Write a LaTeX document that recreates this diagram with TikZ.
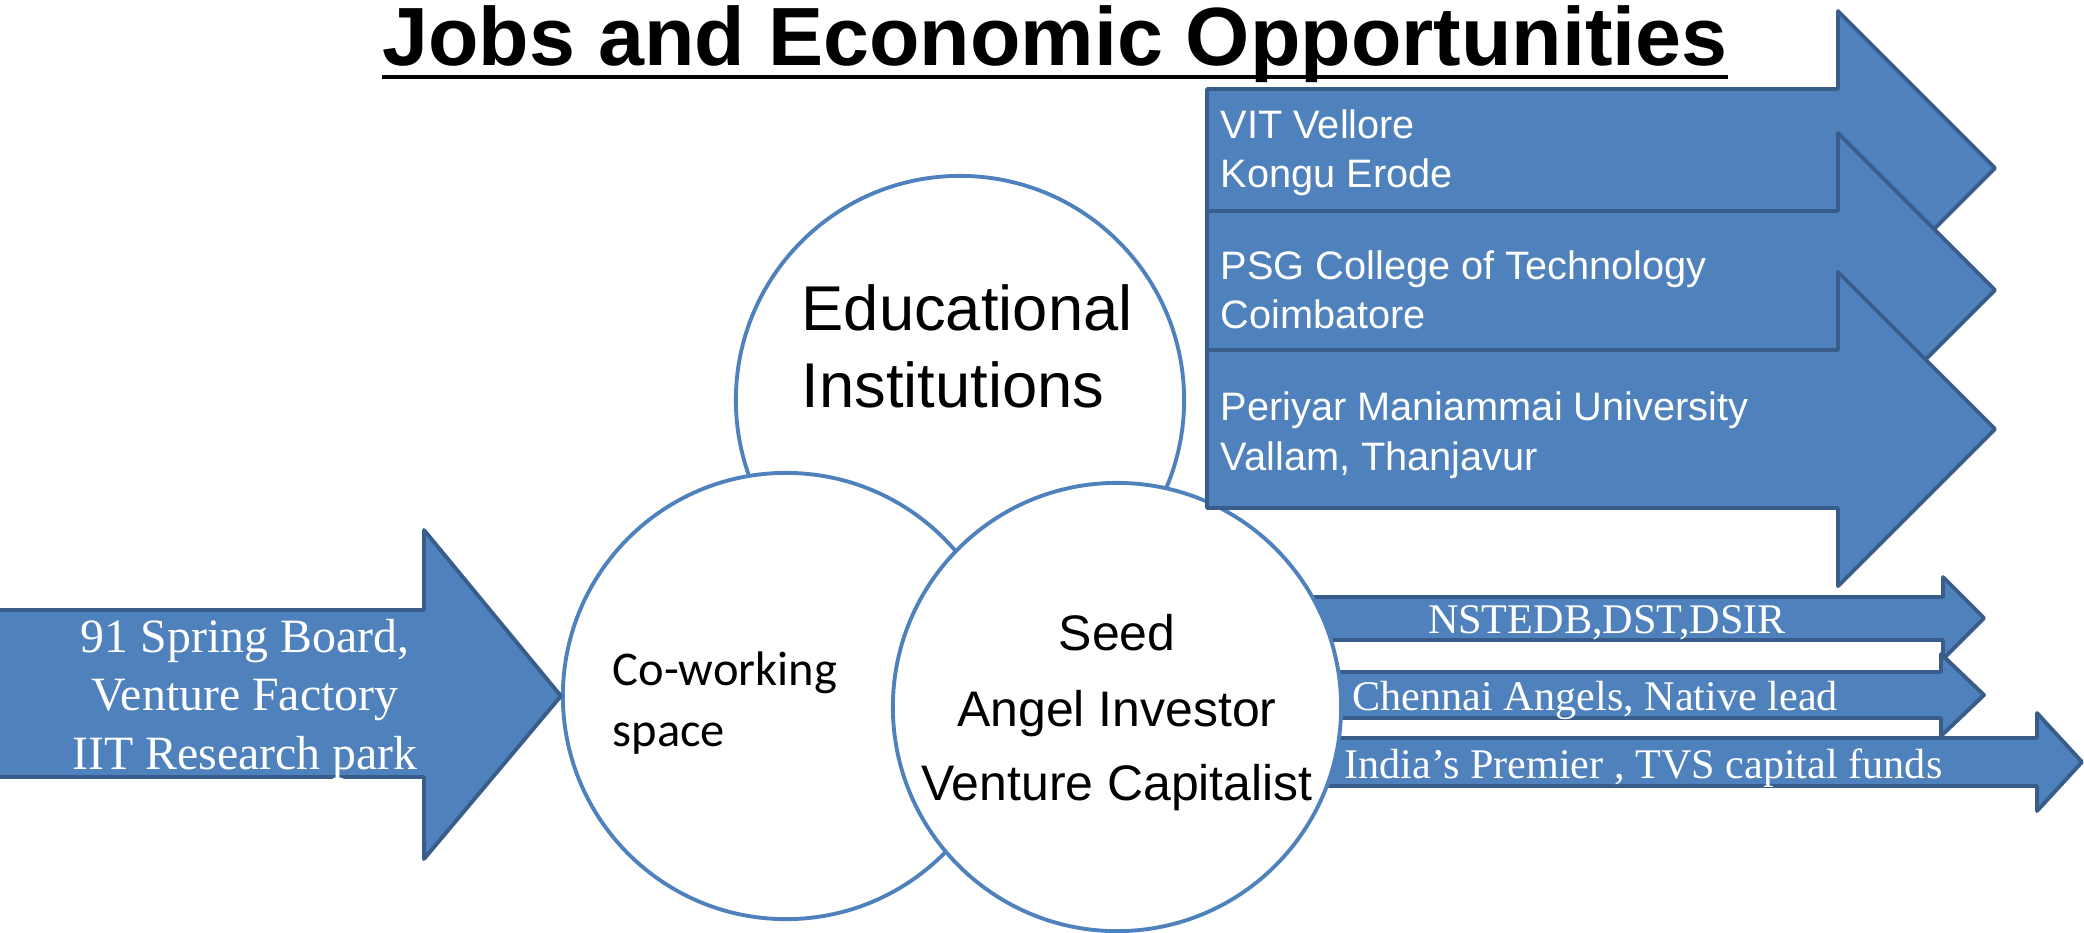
\documentclass[tikz,border=0pt]{standalone}
\usepackage{fontspec}
\setmainfont{Liberation Serif}
\setsansfont{Liberation Sans}
\newfontfamily\cwfont{Carlito}
\usepackage{tikz}
\usetikzlibrary{positioning}
\definecolor{ArrowFill}{RGB}{79,129,189}
\definecolor{ArrowLine}{RGB}{56,93,138}

\begin{document}
\begin{tikzpicture}[x=0.01cm,y=-0.01cm,blk/.style={draw=ArrowLine,fill=ArrowFill,line width=1.1pt,line join=round},ring/.style={circle,draw=ArrowFill,fill=white,line width=1.1pt,minimum size=4.48cm,inner sep=0pt},wtxt/.style={text=white,inner sep=0pt,anchor=base west},ktxt/.style={text=black,inner sep=0pt,anchor=base west}]
\useasboundingbox (0,0) rectangle (2084,932);
% circles
\node[ring] (edu) at (960,400) {};
\node[ring,minimum size=4.46cm] (cowork) at (786,696) {};
% small arrows, behind the seed circle
\draw[blk] (1250,597) -- (1943,597) -- (1943,577) -- (1984,618) -- (1943,659) -- (1943,640) -- (1250,640) -- cycle;
\draw[blk] (1250,672) -- (1941,672) -- (1941,654) -- (1984,695) -- (1941,736) -- (1941,718) -- (1250,718) -- cycle;
\draw[blk] (1250,738) -- (2037,738) -- (2037,713) -- (2082,762) -- (2037,811) -- (2037,786) -- (1250,786) -- cycle;
\node[ring] (seed) at (1117,707) {};
% big arrows
\foreach \t/\la/\lb/\ya/\yb [count=\i] in %
{168/VIT Vellore/Kongu Erode/138/187,290/PSG College of Technology/Coimbatore/279/328,429/Periyar Maniammai University/{Vallam, Thanjavur}/420/470} {
   \draw[blk] (1207,\t-79) -- (1838,\t-79) -- (1838,\t-157) -- (1995,\t) -- (1838,\t+157) -- (1838,\t+79) -- (1207,\t+79) -- cycle;
   \node[wtxt,font=\sffamily\fontsize{11.3}{13}\selectfont] (inst\i-a) at (1220,\ya) {\la};
   \node[wtxt,font=\sffamily\fontsize{11.3}{13}\selectfont] (inst\i-b) at (1220,\yb) {\lb};
}
% left arrow
\draw[blk] (-10,610) -- (424,610) -- (424,530) -- (cowork.west) -- (424,859) -- (424,777) -- (-10,777) -- cycle;
\foreach \y/\l [count=\i] in {652/{91 Spring Board,},710/Venture Factory,769/IIT Research park} {
   \node[wtxt,anchor=base,font=\fontsize{13.6}{16}\selectfont] (hub\i) at (245,\y) {\l};
}
% texts of the small arrows
\node[wtxt,anchor=base,font=\fontsize{12}{14}\selectfont] (fund1) at (1607,633) {NSTEDB,DST,DSIR};
\node[wtxt,font=\fontsize{12}{14}\selectfont] (fund2) at (1352,710) {Chennai Angels, Native lead};
\node[wtxt,font=\fontsize{12}{14}\selectfont] (fund3) at (1344,778) {India’s Premier , TVS capital funds};
% circle texts
\node[ktxt,font=\sffamily\fontsize{18}{21}\selectfont] (edu1) at (801,330) {Educational};
\node[ktxt,font=\sffamily\fontsize{18}{21}\selectfont] (edu2) at (801,407) {Institutions};
\node[ktxt,font=\cwfont\fontsize{13.8}{16}\selectfont] (cw1) at (612,685) {Co-working};
\node[ktxt,font=\cwfont\fontsize{13.8}{16}\selectfont] (cw2) at (612,746) {space};
\foreach \y/\l [count=\i] in {650/Seed,726/Angel Investor,800/Venture Capitalist} {
   \node[ktxt,anchor=base,font=\sffamily\fontsize{14.2}{17}\selectfont] (seed\i) at (1117,\y) {\l};
}
% title
\node[ktxt,anchor=base,font=\sffamily\bfseries\fontsize{23.5}{28}\selectfont] (ttl) at (1055,65) {Jobs and Economic Opportunities};
\draw[line width=1.4pt] ([yshift=-0.12cm]ttl.base west) -- ([yshift=-0.12cm]ttl.base east);
\end{tikzpicture}
\end{document}
